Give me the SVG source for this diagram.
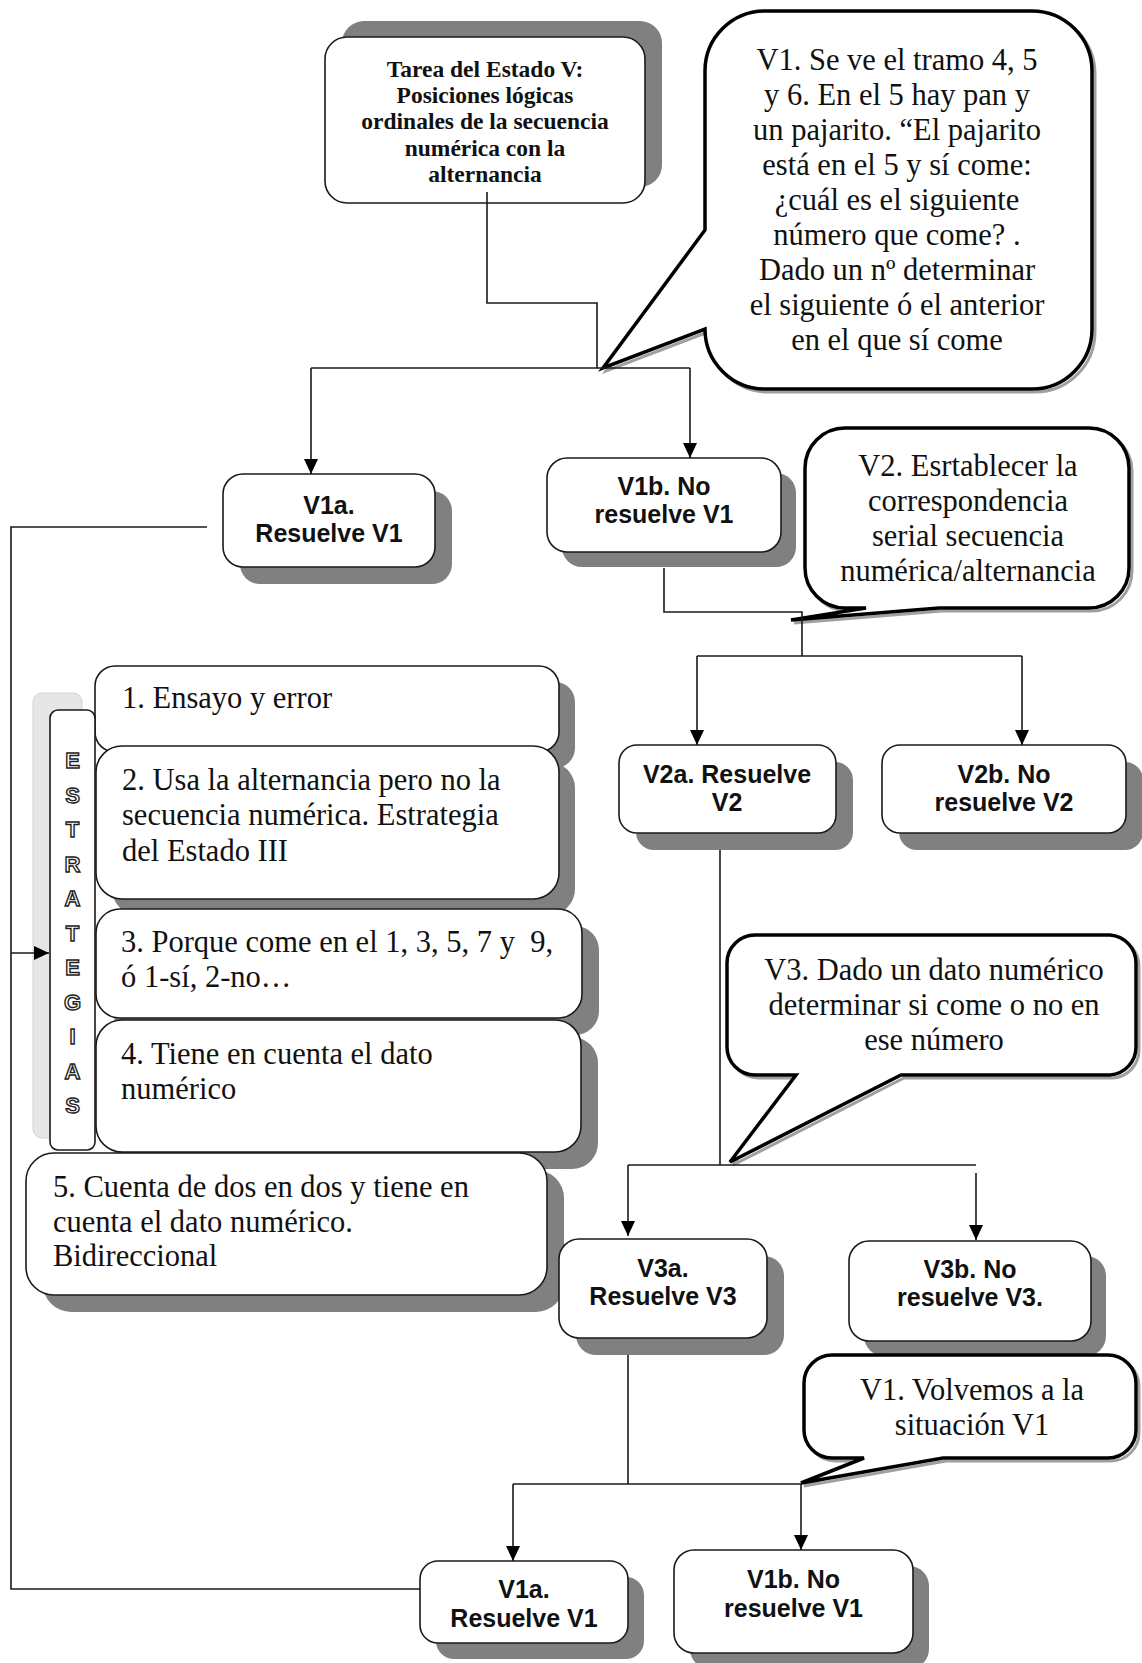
<svg xmlns="http://www.w3.org/2000/svg" width="1142" height="1663" viewBox="0 0 1142 1663">
<style>
.sh{fill:#808080}
.bx{fill:#fff;stroke:#1a1a1a;stroke-width:1.6}
.bub{fill:#fff;stroke:#000;stroke-width:3.5;stroke-linejoin:miter}
.bubsh{fill:none;stroke:#a0a0a0;stroke-width:3}
.ser{font-family:"Liberation Serif","Times New Roman",serif;font-size:30.5px;fill:#111}
.mid{text-anchor:middle}
.serb{font-family:"Liberation Serif","Times New Roman",serif;font-size:23.5px;font-weight:bold;fill:#111;text-anchor:middle}
.san{font-family:"Liberation Sans",Arial,sans-serif;font-size:25px;font-weight:bold;fill:#111;text-anchor:middle}
.out{font-family:"Liberation Sans",Arial,sans-serif;font-size:22px;font-weight:bold;fill:#fff;stroke:#222;stroke-width:1.4;text-anchor:middle}
.cn{fill:none;stroke:#1a1a1a;stroke-width:1.6}
</style>
<defs>
<marker id="arr" markerUnits="userSpaceOnUse" markerWidth="16" markerHeight="16" viewBox="0 0 16 16" refX="15" refY="8" orient="auto"><path d="M0,1 L15,8 L0,15 z" fill="#000"/></marker>
</defs>
<rect x="0" y="0" width="1142" height="1663" fill="#fff"/>

<g id="tarea">
<rect class="sh" x="342" y="21" width="320" height="166" rx="22"/>
<rect class="bx" x="325" y="37" width="320" height="166" rx="22"/>
<text class="serb" x="485" y="77">Tarea del Estado V:</text>
<text class="serb" x="485" y="103.2">Posiciones lógicas</text>
<text class="serb" x="485" y="129.4">ordinales de la secuencia</text>
<text class="serb" x="485" y="155.6">numérica con la</text>
<text class="serb" x="485" y="181.8">alternancia</text>
</g>

<g id="v1-bubble">
<path class="bubsh" transform="translate(3,3)" d="M765,11 H1032 A60,60 0 0 1 1092,71 V329 A60,60 0 0 1 1032,389 H765 A60,60 0 0 1 705,329 L603,368 L705,230 V71 A60,60 0 0 1 765,11 Z"/>
<path class="bub" d="M765,11 H1032 A60,60 0 0 1 1092,71 V329 A60,60 0 0 1 1032,389 H765 A60,60 0 0 1 705,329 L603,368 L705,230 V71 A60,60 0 0 1 765,11 Z"/>
<text class="ser mid" x="897" y="70">V1. Se ve el tramo 4, 5</text>
<text class="ser mid" x="897" y="105">y 6. En el 5 hay pan y</text>
<text class="ser mid" x="897" y="140">un pajarito. “El pajarito</text>
<text class="ser mid" x="897" y="175">está en el 5 y sí come:</text>
<text class="ser mid" x="897" y="210">¿cuál es el siguiente</text>
<text class="ser mid" x="897" y="245">número que come? .</text>
<text class="ser mid" x="897" y="280">Dado un nº determinar</text>
<text class="ser mid" x="897" y="315">el siguiente ó el anterior</text>
<text class="ser mid" x="897" y="350">en el que sí come</text>
</g>

<g id="v1a-top">
<rect class="sh" x="240" y="491" width="212" height="93" rx="20"/>
<rect class="bx" x="223" y="474" width="212" height="93" rx="20"/>
<text class="san" x="329" y="514">V1a.</text>
<text class="san" x="329" y="542">Resuelve V1</text>
</g>

<g id="v1b-top">
<rect class="sh" x="562" y="473" width="234" height="94" rx="20"/>
<rect class="bx" x="547" y="458" width="234" height="94" rx="20"/>
<text class="san" x="664" y="495">V1b. No</text>
<text class="san" x="664" y="523">resuelve V1</text>
</g>

<g id="v2-bubble">
<path class="bubsh" transform="translate(3,3)" d="M845,428 H1089 A40,40 0 0 1 1129,468 V568 A40,40 0 0 1 1089,608 H939 L791,620 L866,608 H845 A40,40 0 0 1 805,568 V468 A40,40 0 0 1 845,428 Z"/>
<path class="bub" d="M845,428 H1089 A40,40 0 0 1 1129,468 V568 A40,40 0 0 1 1089,608 H939 L791,620 L866,608 H845 A40,40 0 0 1 805,568 V468 A40,40 0 0 1 845,428 Z"/>
<text class="ser mid" x="968" y="476">V2. Esrtablecer la</text>
<text class="ser mid" x="968" y="511">correspondencia</text>
<text class="ser mid" x="968" y="546">serial secuencia</text>
<text class="ser mid" x="968" y="581">numérica/alternancia</text>
</g>

<g id="v2a">
<rect class="sh" x="636" y="762" width="217" height="88" rx="18"/>
<rect class="bx" x="619" y="745" width="217" height="88" rx="18"/>
<text class="san" x="727" y="783">V2a. Resuelve</text>
<text class="san" x="727" y="811">V2</text>
</g>

<g id="v2b">
<rect class="sh" x="899" y="762" width="244" height="88" rx="18"/>
<rect class="bx" x="882" y="745" width="244" height="88" rx="18"/>
<text class="san" x="1004" y="783">V2b. No</text>
<text class="san" x="1004" y="811">resuelve V2</text>
</g>

<g id="estrategia-1">
<rect class="sh" x="111" y="682" width="464" height="86" rx="20"/>
<rect class="bx" x="95" y="666" width="464" height="86" rx="20"/>
<text class="ser" x="122" y="708">1. Ensayo y error</text>
</g>

<g id="estrategia-2">
<rect class="sh" x="112" y="762" width="463" height="153" rx="26"/>
<rect class="bx" x="96" y="746" width="463" height="153" rx="26"/>
<text class="ser" x="122" y="790">2. Usa la alternancia pero no la</text>
<text class="ser" x="122" y="825">secuencia numérica. Estrategia</text>
<text class="ser" x="122" y="861">del Estado III</text>
</g>

<g id="estrategia-3">
<rect class="sh" x="113" y="926" width="486" height="109" rx="24"/>
<rect class="bx" x="96" y="909" width="486" height="109" rx="24"/>
<text class="ser" x="121" y="952">3. Porque come en el 1, 3, 5, 7 y&#160; 9,</text>
<text class="ser" x="121" y="987">ó 1-sí, 2-no…</text>
</g>

<g id="estrategia-4">
<rect class="sh" x="113" y="1037" width="485" height="132" rx="26"/>
<rect class="bx" x="96" y="1020" width="485" height="132" rx="26"/>
<text class="ser" x="121" y="1064">4. Tiene en cuenta el dato</text>
<text class="ser" x="121" y="1099">numérico</text>
</g>

<g id="estrategias-label">
<rect x="33" y="693" width="49" height="445" rx="9" fill="#e6e6e6" stroke="#d2d2d2" stroke-width="1"/>
<rect class="bx" x="50" y="710" width="45" height="440" rx="8"/>
<text class="out" x="72.5" y="768">E</text>
<text class="out" x="72.5" y="802.5">S</text>
<text class="out" x="72.5" y="837">T</text>
<text class="out" x="72.5" y="871.5">R</text>
<text class="out" x="72.5" y="906">A</text>
<text class="out" x="72.5" y="940.5">T</text>
<text class="out" x="72.5" y="975">E</text>
<text class="out" x="72.5" y="1009.5">G</text>
<text class="out" x="72.5" y="1044">I</text>
<text class="out" x="72.5" y="1078.5">A</text>
<text class="out" x="72.5" y="1113">S</text>
</g>

<g id="estrategia-5">
<rect class="sh" x="43" y="1170" width="521" height="142" rx="28"/>
<rect class="bx" x="26" y="1153" width="521" height="142" rx="28"/>
<text class="ser" x="53" y="1197">5. Cuenta de dos en dos y tiene en</text>
<text class="ser" x="53" y="1232">cuenta el dato numérico.</text>
<text class="ser" x="53" y="1266">Bidireccional</text>
</g>

<g id="v3-bubble">
<path class="bubsh" transform="translate(3,3)" d="M755,935 H1110 A28,28 0 0 1 1136,963 V1047 A28,28 0 0 1 1110,1075 H901 L730,1162 L796,1075 H755 A28,28 0 0 1 727,1047 V963 A28,28 0 0 1 755,935 Z"/>
<path class="bub" d="M755,935 H1110 A28,28 0 0 1 1136,963 V1047 A28,28 0 0 1 1110,1075 H901 L730,1162 L796,1075 H755 A28,28 0 0 1 727,1047 V963 A28,28 0 0 1 755,935 Z"/>
<text class="ser mid" x="934" y="980">V3. Dado un dato numérico</text>
<text class="ser mid" x="934" y="1015">determinar si come o no en</text>
<text class="ser mid" x="934" y="1050">ese número</text>
</g>

<g id="v3a">
<rect class="sh" x="576" y="1256" width="208" height="99" rx="20"/>
<rect class="bx" x="559" y="1239" width="208" height="99" rx="20"/>
<text class="san" x="663" y="1277">V3a.</text>
<text class="san" x="663" y="1305">Resuelve V3</text>
</g>

<g id="v3b">
<rect class="sh" x="864" y="1256" width="242" height="100" rx="20"/>
<rect class="bx" x="849" y="1241" width="242" height="100" rx="20"/>
<text class="san" x="970" y="1278">V3b. No</text>
<text class="san" x="970" y="1306">resuelve V3.</text>
</g>

<g id="v1-return-bubble">
<path class="bubsh" transform="translate(3,3)" d="M832,1355 H1108 A28,28 0 0 1 1136,1383 V1430 A28,28 0 0 1 1108,1458 H943 L801,1483 L864,1458 H832 A28,28 0 0 1 804,1430 V1383 A28,28 0 0 1 832,1355 Z"/>
<path class="bub" d="M832,1355 H1108 A28,28 0 0 1 1136,1383 V1430 A28,28 0 0 1 1108,1458 H943 L801,1483 L864,1458 H832 A28,28 0 0 1 804,1430 V1383 A28,28 0 0 1 832,1355 Z"/>
<text class="ser mid" x="972" y="1400">V1. Volvemos a la</text>
<text class="ser mid" x="972" y="1435">situación V1</text>
</g>

<g id="v1a-bottom">
<rect class="sh" x="436" y="1577" width="208" height="82" rx="18"/>
<rect class="bx" x="420" y="1561" width="208" height="82" rx="18"/>
<text class="san" x="524" y="1598">V1a.</text>
<text class="san" x="524" y="1627">Resuelve V1</text>
</g>

<g id="v1b-bottom">
<rect class="sh" x="690" y="1566" width="239" height="103" rx="20"/>
<rect class="bx" x="674" y="1550" width="239" height="103" rx="20"/>
<text class="san" x="793.5" y="1588">V1b. No</text>
<text class="san" x="793.5" y="1617">resuelve V1</text>
</g>

<g id="connectors">
<path class="cn" d="M487,192 V303 H597 V368"/>
<path class="cn" d="M311,368 H690"/>
<path class="cn" d="M311,368 V474" marker-end="url(#arr)"/>
<path class="cn" d="M690,368 V458" marker-end="url(#arr)"/>
<path class="cn" d="M207,527 H11 V1589 H420"/>
<path class="cn" d="M11,953 H49" marker-end="url(#arr)"/>
<path class="cn" d="M664,568 V612 H802 V656"/>
<path class="cn" d="M697,656 H1022"/>
<path class="cn" d="M697,656 V745" marker-end="url(#arr)"/>
<path class="cn" d="M1022,656 V745" marker-end="url(#arr)"/>
<path class="cn" d="M720,850 V1165"/>
<path class="cn" d="M628,1165 H976"/>
<path class="cn" d="M628,1165 V1236" marker-end="url(#arr)"/>
<path class="cn" d="M976,1173 V1240" marker-end="url(#arr)"/>
<path class="cn" d="M628,1355 V1484"/>
<path class="cn" d="M513,1484 H801"/>
<path class="cn" d="M513,1484 V1561" marker-end="url(#arr)"/>
<path class="cn" d="M801,1484 V1550" marker-end="url(#arr)"/>
</g>
</svg>
